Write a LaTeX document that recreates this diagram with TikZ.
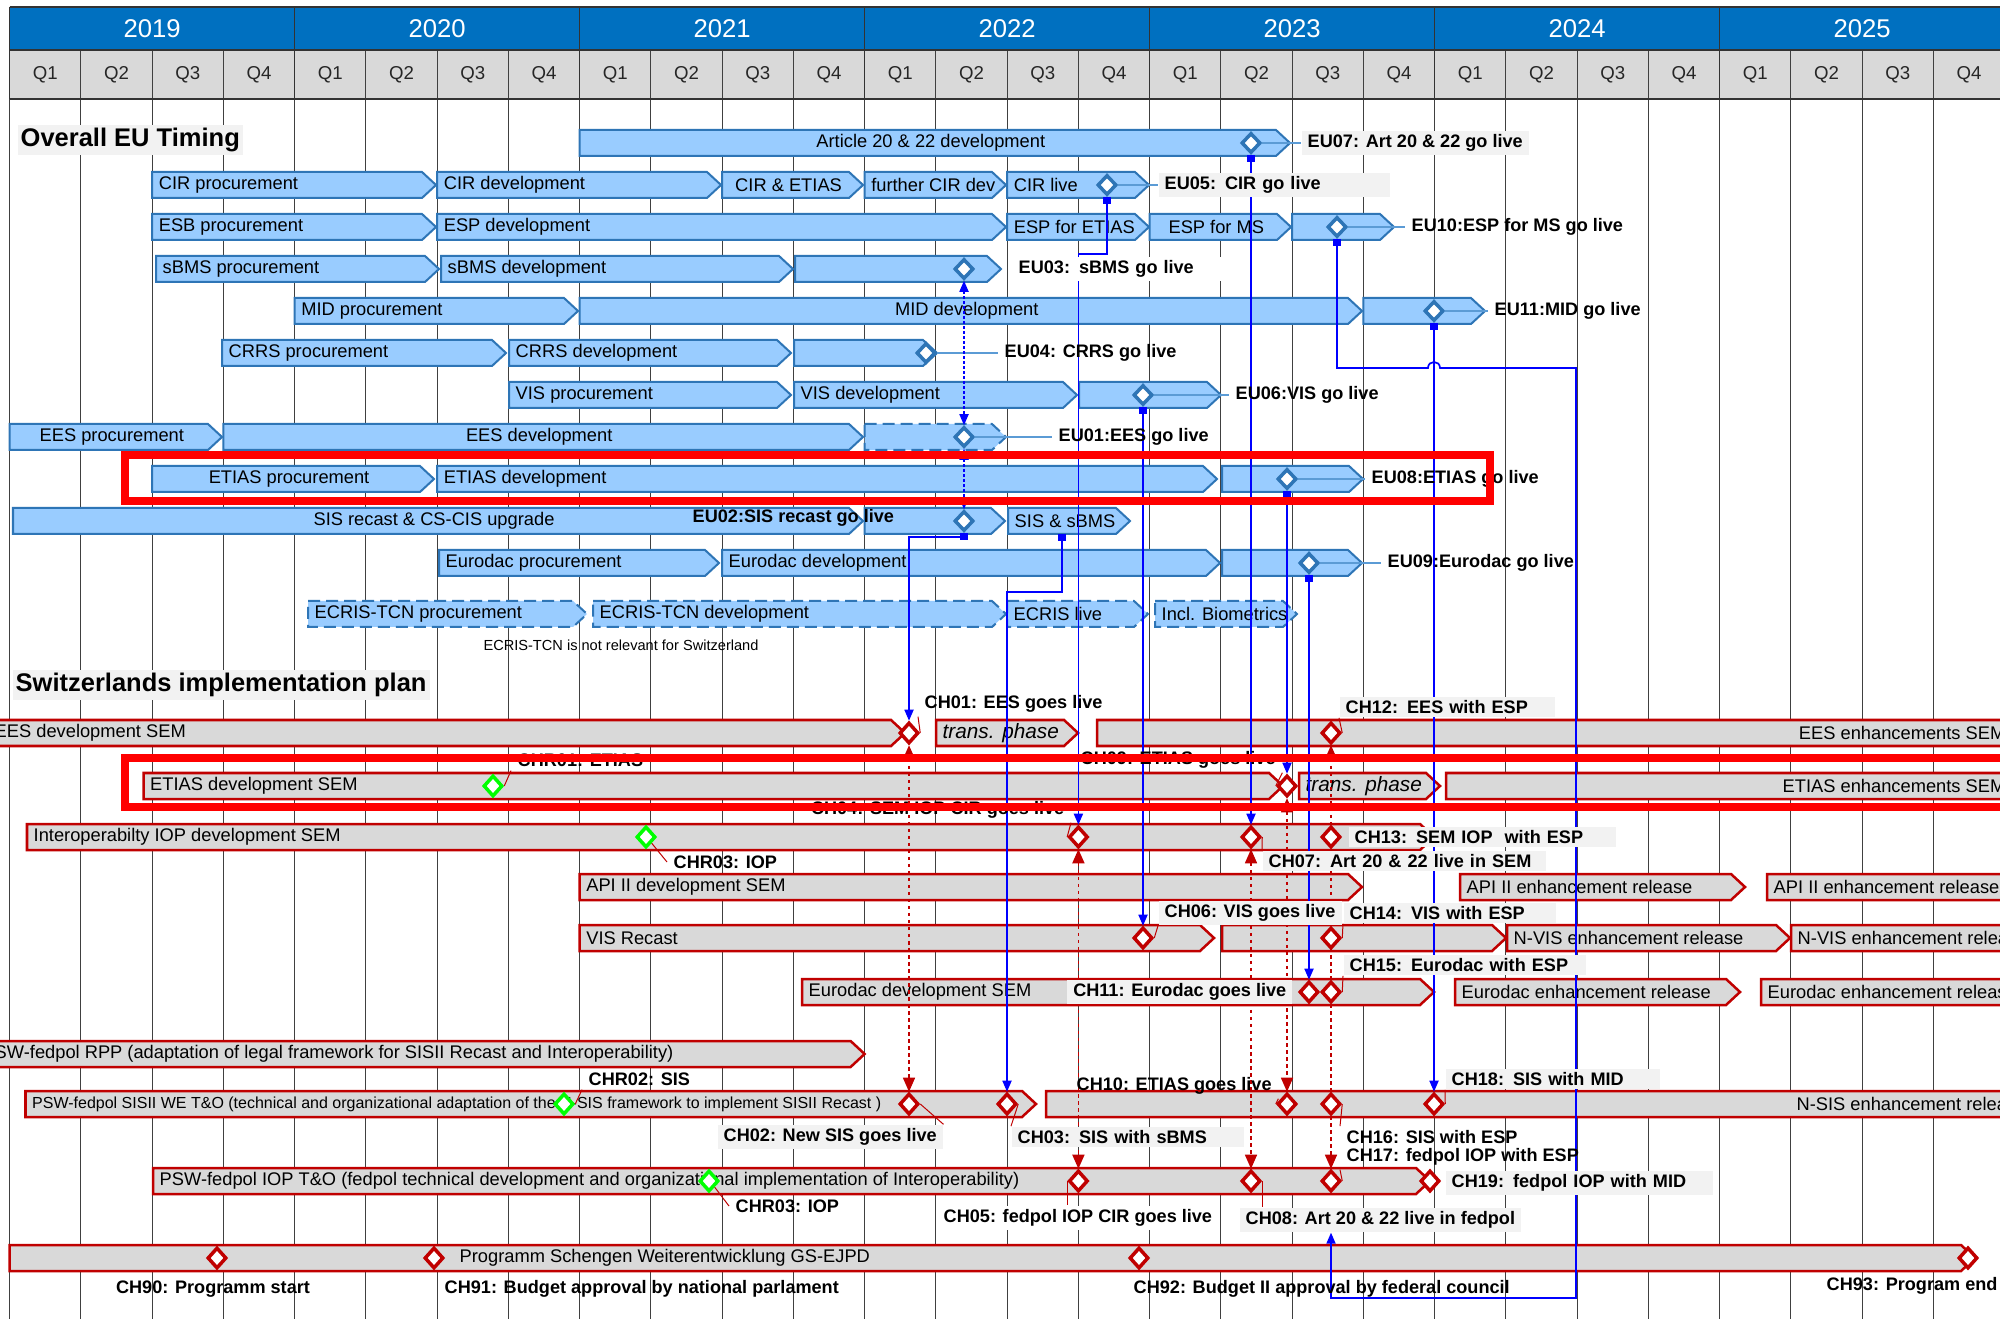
\documentclass[tikz,border=0pt]{standalone}
\usepackage{fontspec}
\setmainfont{Liberation Sans}
\usetikzlibrary{shapes.geometric,arrows.meta,calc,positioning}
\pgfdeclarelayer{back}
\pgfdeclarelayer{links}
\pgfdeclarelayer{front}
\pgfsetlayers{back,links,main,front}

\definecolor{hdrblue}{HTML}{0070C0}
\definecolor{qgray}{HTML}{D9D9D9}
\definecolor{eufill}{HTML}{99CCFF}
\definecolor{euline}{HTML}{2E75B6}
\definecolor{euthin}{HTML}{5B9BD5}
\definecolor{chfill}{HTML}{D9D9D9}
\definecolor{chred}{HTML}{C00000}
\definecolor{hired}{HTML}{FF0000}
\definecolor{grn}{HTML}{00FF00}
\definecolor{labgray}{HTML}{F2F2F2}
\definecolor{linkblue}{HTML}{0000FF}

\newcommand{\barfont}{\fontsize{5.2}{6}\selectfont}
\newcommand{\phasefont}{\fontsize{5.9}{7}\selectfont\itshape}
\newcommand{\smallbarfont}{\fontsize{4.55}{5.2}\selectfont}
\newcommand{\msfont}{\fontsize{5.15}{6}\selectfont\bfseries}
\newcommand{\headfont}{\fontsize{7.25}{8.5}\selectfont\bfseries}
\newcommand{\yearfont}{\fontsize{7.3}{8.5}\selectfont}
\newcommand{\qfont}{\fontsize{5.3}{6.5}\selectfont}
\newcommand{\notefont}{\fontsize{4.15}{5}\selectfont}

\tikzset{
	declare function={qx(\k)=9.6+71.25*\k;},
	gridline/.style={draw=black!75, line width=0.12mm},
	hdrline/.style={draw=black!80, line width=0.15mm},
	yearlab/.style={text=white, font=\yearfont},
	qlab/.style={text=black!85, font=\qfont},
	eubox/.style={fill=eufill, draw=euline, line width=0.2mm},
	eudash/.style={eubox, dash pattern=on 1.2mm off 0.6mm},
	chbox/.style={fill=chfill, draw=chred, line width=0.25mm},
	bartext/.style={font=\barfont, inner xsep=0pt, inner ysep=0.3mm, text=black},
	txl/.style={bartext, anchor=west, at=(L)},
	txli/.style={txl, font=\phasefont},
	txls/.style={txl, font=\smallbarfont},
	txc/.style={bartext, at=(C)},
	txr/.style={bartext, anchor=east, at=(R)},
	eums/.style={diamond, draw=euline, fill=white, line width=0.35mm, minimum width=1.9mm, minimum height=2mm, inner sep=0pt},
	chms/.style={eums, draw=chred, minimum height=2.1mm},
	grms/.style={chms, draw=grn},
	mslab/.style={font=\msfont, inner xsep=0.6mm, inner ysep=0.35mm, anchor=west, text=black},
	graybg/.style={fill=labgray},
	heading/.style={font=\headfont, inner sep=0.3mm, fill=labgray, anchor=west},
	note/.style={font=\notefont, text=black},
	euleader/.style={draw=euthin, line width=0.15mm},
	leader/.style={draw=chred, line width=0.1mm},
	blink/.style={draw=linkblue, line width=0.17mm, {Square[length=0.7mm,width=0.8mm]}-{Triangle[length=1.1mm,width=0.9mm]}},
	bdot/.style={draw=linkblue, line width=0.17mm, dash pattern=on 0.25mm off 0.25mm, {Triangle[length=1.1mm,width=0.9mm]}-{Triangle[length=1.1mm,width=0.9mm]}},
	rdot/.style={draw=chred, line width=0.15mm, dash pattern=on 0.35mm off 0.35mm, {Triangle[length=1.4mm,width=1.2mm]}-{Triangle[length=1.4mm,width=1.2mm]}},
	hilite/.style={draw=hired, line width=0.8mm}
}

% bar with arrow end: box style, text style, name, x from, x to, row, text
\newcommand{\chev}[7]{%
	\draw[#1] (#4,#6-13) -- ({#5-14},#6-13) -- (#5,#6) -- ({#5-14},#6+13) -- (#4,#6+13) -- cycle;
	\coordinate (L) at ({#4+6},#6);
	\coordinate (C) at ({(#4+#5)/2-4},#6);
	\coordinate (R) at ({#5-28},#6);
	\node[#2] (#3) {#7};
}

\begin{document}
\begin{tikzpicture}[x=0.01cm, y=-0.01cm]
\useasboundingbox (0,0) rectangle (2000,1319);

\begin{pgfonlayer}{back}
	\fill[white] (0,0) rectangle (2000,1319);
	\fill[hdrblue] (9.6,7) rectangle (2010,50);
	\fill[qgray] (9.6,50) rectangle (2010,99);
	\foreach \k in {0,...,28}
		\draw[gridline] ({qx(\k)},50) -- ({qx(\k)},1319);
	\foreach \k in {0,4,...,28}
		\draw[hdrline] ({qx(\k)},7) -- ({qx(\k)},99);
	\draw[hdrline] (9.6,7) -- (2010,7) (9.6,50) -- (2010,50) (9.6,99) -- (2010,99);

	% EU bars
	\chev{eubox}{txc}{art1}{579.6}{1290}{143}{Article 20 \& 22 development}
	\chev{eubox}{txl}{cir1}{152.1}{436}{185}{CIR procurement}
	\chev{eubox}{txl}{cir2}{437.1}{721}{185}{CIR development}
	\chev{eubox}{txc}{cir3}{722.1}{863}{185}{CIR \& ETIAS}
	\chev{eubox}{txl}{cir4}{864.6}{1006}{185}{further CIR dev}
	\chev{eubox}{txl}{cir5}{1007.1}{1149}{185}{CIR live}
	\chev{eubox}{txl}{esp1}{152.1}{436}{227}{ESB procurement}
	\chev{eubox}{txl}{esp2}{437.1}{1006}{227}{ESP development}
	\chev{eubox}{txl}{esp3}{1007.1}{1149}{227}{ESP for ETIAS}
	\chev{eubox}{txc}{esp4}{1149.6}{1291}{227}{ESP for MS}
	\chev{eubox}{txl}{esp5}{1292.1}{1394}{227}{}
	\chev{eubox}{txl}{sbms1}{156}{439}{269}{sBMS procurement}
	\chev{eubox}{txl}{sbms2}{441}{793}{269}{sBMS development}
	\chev{eubox}{txl}{sbms3}{795}{1001}{269}{}
	\chev{eubox}{txl}{mid1}{294.6}{578}{311}{MID procurement}
	\chev{eubox}{txc}{mid2}{579.6}{1362}{311}{MID development}
	\chev{eubox}{txl}{mid3}{1363.4}{1485}{311}{}
	\chev{eubox}{txl}{crrs1}{222}{506}{353}{CRRS procurement}
	\chev{eubox}{txl}{crrs2}{509}{791}{353}{CRRS development}
	\chev{eubox}{txl}{crrs3}{794}{937}{353}{}
	\chev{eubox}{txl}{vis1}{509}{791}{395}{VIS procurement}
	\chev{eubox}{txl}{vis2}{794}{1077}{395}{VIS development}
	\chev{eubox}{txl}{vis3}{1079}{1221}{395}{}
	\chev{eubox}{txc}{ees1}{9.6}{222}{437}{EES procurement}
	\chev{eubox}{txc}{ees2}{223.4}{863}{437}{EES development}
	\chev{eudash}{txl}{ees3}{864.6}{1006}{437}{}
	\chev{eubox}{txc}{etias1}{152.1}{434}{479}{ETIAS procurement}
	\chev{eubox}{txl}{etias2}{437.1}{1217}{479}{ETIAS development}
	\chev{eubox}{txl}{etias3}{1222}{1363}{479}{}
	\chev{eubox}{txc}{sis1}{13}{863}{521}{SIS recast \& CS-CIS upgrade}
	\chev{eubox}{txl}{sis2}{864.6}{1005}{521}{}
	\chev{eubox}{txl}{sis3}{1008}{1130}{521}{SIS \& sBMS}
	\chev{eubox}{txl}{edac1}{439}{719}{563}{Eurodac procurement}
	\chev{eubox}{txl}{edac2}{722}{1220}{563}{Eurodac development}
	\chev{eubox}{txl}{edac3}{1222}{1362}{563}{}
	\chev{eudash}{txl}{ecris1}{308}{587}{614}{ECRIS-TCN procurement}
	\chev{eudash}{txl}{ecris2}{593}{1006}{614}{ECRIS-TCN development}
	\chev{eudash}{txl}{ecris3}{1007}{1148}{614}{ECRIS live}
	\chev{eudash}{txl}{ecris4}{1155}{1297}{614}{Incl. Biometrics}

	% Swiss bars
	\chev{chbox}{txl}{sem1}{-12}{905}{733}{EES development SEM}
	\chev{chbox}{txli}{sem2}{936}{1078}{733}{trans. phase}
	\chev{chbox}{txr}{sem3}{1097}{2034}{733}{EES enhancements SEM}
	\chev{chbox}{txl}{ets1}{143.5}{1283}{786}{ETIAS development SEM}
	\chev{chbox}{txli}{ets2}{1299}{1440}{786}{trans. phase}
	\chev{chbox}{txr}{ets3}{1446}{2034}{786}{ETIAS enhancements SEM}
	\chev{chbox}{txl}{iop1}{27}{1434}{837}{Interoperabilty IOP development SEM}
	\chev{chbox}{txl}{api1}{579.6}{1362}{887}{API II development SEM}
	\chev{chbox}{txl}{api2}{1460}{1745}{887}{API II enhancement release}
	\chev{chbox}{txl}{api3}{1767}{2100}{887}{API II enhancement release}
	\chev{chbox}{txl}{visr1}{579.6}{1214}{938}{VIS Recast}
	\chev{chbox}{txl}{visr2}{1222}{1506}{938}{}
	\chev{chbox}{txl}{visr3}{1507}{1790}{938}{N-VIS enhancement release}
	\chev{chbox}{txl}{visr4}{1791}{2100}{938}{N-VIS enhancement release}
	\chev{chbox}{txl}{eds1}{802}{1434}{992}{Eurodac development SEM}
	\chev{chbox}{txl}{eds2}{1455}{1740}{992}{Eurodac enhancement release}
	\chev{chbox}{txl}{eds3}{1761}{2100}{992}{Eurodac enhancement release}
	\chev{chbox}{txl}{rpp1}{-12}{864.6}{1054}{SW-fedpol RPP (adaptation of legal framework for SISII Recast and Interoperability)}
	\chev{chbox}{txls}{sisii1}{25.5}{1036}{1104}{PSW-fedpol SISII WE T\&O (technical and organizational adaptation of the N-SIS framework to implement SISII Recast )}
	\chev{chbox}{txr}{sisii2}{1046}{2055}{1104}{N-SIS enhancement release}
	\chev{chbox}{txl}{piop1}{153}{1430}{1181}{PSW-fedpol IOP T\&O (fedpol technical development and organizational implementation of Interoperability)}
	\chev{chbox}{txl}{prog1}{9.6}{1975}{1258}{}
	\node[bartext, anchor=west] (prog-text) at (459,1258) {Programm Schengen Weiterentwicklung GS-EJPD};
\end{pgfonlayer}

\foreach \yr [count=\i from 0] in {2019,...,2025}
	\node[yearlab] (yr\yr) at ({qx(4*\i+2)},28.5) {\yr};
\foreach \k in {0,...,27}{
	\pgfmathtruncatemacro{\qn}{mod(\k,4)+1}
	\node[qlab] (qr\k) at ({qx(\k+0.5)},74.5) {Q\qn};
}

\node[heading] (eu-head) at (17,140) {Overall EU Timing};
\node[heading] (ch-head) at (12,685) {Switzerlands implementation plan};
\node[note] (ecris-note) at (621,645) {ECRIS-TCN is not relevant for Switzerland};
\coordinate (sisbms) at (1062,534);

% EU milestone labels
\node[mslab, graybg] (eu07-lab) at (1301,143) {EU07: Art 20 \& 22 go live};
\node[mslab, graybg, text width=2.19cm, align=left] (eu05-lab) at (1158,185) {EU05: CIR go live};
\node[mslab] (eu10-lab) at (1405,227) {EU10:ESP for MS go live};
\node[mslab, fill=white, text width=1.98cm, align=left] (eu03-lab) at (1012,269) {EU03: sBMS go live};
\node[mslab] (eu11-lab) at (1488,311) {EU11:MID go live};
\node[mslab] (eu04-lab) at (998,353) {EU04: CRRS go live};
\node[mslab] (eu06-lab) at (1229,395) {EU06:VIS go live};
\node[mslab] (eu01-lab) at (1052,437) {EU01:EES go live};
\node[mslab] (eu08-lab) at (1365,479) {EU08:ETIAS go live};
\node[mslab] (eu02-lab) at (686,518) {EU02:SIS recast go live};
\node[mslab] (eu09-lab) at (1381,563) {EU09:Eurodac go live};

% Swiss milestone labels
\node[mslab] (ch01-lab) at (918,704) {CH01: EES goes live};
\node[mslab, graybg, text width=2.03cm, align=left] (ch12-lab) at (1339,707) {CH12: EES with ESP};
\node[mslab] (chr01-lab) at (511,760) {CHR01: ETIAS};
\node[mslab] (ch09-lab) at (1074,760) {CH09: ETIAS goes live};
\node[mslab] (chr03a-lab) at (667,862) {CHR03: IOP};
\node[mslab, anchor=east] (ch04-lab) at (1071,810) {CH04: SEM IOP CIR goes live};
\node[mslab, graybg, text width=2.71cm, align=left] (ch07-lab) at (1262,861) {CH07: Art 20 \& 22 live in SEM};
\node[mslab, graybg, text width=2.55cm, align=left] (ch13-lab) at (1348,837) {CH13: SEM IOP\ \ with ESP};
\node[mslab, graybg] (ch06-lab) at (1158,913) {CH06: VIS goes live};
\node[mslab, graybg, text width=2cm, align=left] (ch14-lab) at (1343,913) {CH14: VIS with ESP};
\node[mslab, graybg, anchor=east] (ch11-lab) at (1293,992) {CH11: Eurodac goes live};
\node[mslab, graybg, text width=2.3cm, align=left] (ch15-lab) at (1343,965) {CH15: Eurodac with ESP};
\node[mslab] (chr02-lab) at (582,1079) {CHR02: SIS};
\node[mslab, graybg] (ch02-lab) at (717,1137) {CH02: New SIS goes live};
\node[mslab, graybg, text width=2.2cm, align=left] (ch03-lab) at (1011,1137) {CH03: SIS with sBMS};
\node[mslab] (ch10-lab) at (1070,1086) {CH10: ETIAS goes live};
\node[mslab] (ch16-lab) at (1340,1137) {CH16: SIS with ESP};
\node[mslab, graybg, text width=2.02cm, align=left] (ch18-lab) at (1445,1079) {CH18: SIS with MID};
\node[mslab] (chr03b-lab) at (729,1206) {CHR03: IOP};
\node[mslab, fill=white] (ch05-lab) at (937,1218) {CH05: fedpol IOP CIR goes live};
\node[mslab, graybg] (ch08-lab) at (1239,1220) {CH08: Art 20 \& 22 live in fedpol};
\node[mslab] (ch17-lab) at (1340,1157) {CH17: fedpol IOP with ESP};
\node[mslab, graybg, text width=2.55cm, align=left] (ch19-lab) at (1445,1183) {CH19: fedpol IOP with MID};
\node[mslab, anchor=center] (ch90-lab) at (213,1289) {CH90: Programm start};
\node[mslab] (ch91-lab) at (438,1289) {CH91: Budget approval by national parlament};
\node[mslab] (ch92-lab) at (1127,1289) {CH92: Budget II approval by federal council};
\node[mslab] (ch93-lab) at (1820,1286) {CH93: Program end};

\begin{pgfonlayer}{front}
	\node[eums] (eu07) at (1251,143) {};
	\node[eums] (eu05) at (1107,185) {};
	\node[eums] (eu10) at (1337,227) {};
	\node[eums] (eu03) at (964,269) {};
	\node[eums] (eu11) at (1434,311) {};
	\node[eums] (eu04) at (926,353) {};
	\node[eums] (eu06) at (1143,395) {};
	\node[eums] (eu01) at (964,437) {};
	\node[eums] (eu08) at (1287,479) {};
	\node[eums] (eu02) at (964,521) {};
	\node[eums] (eu09) at (1309,563) {};

	\node[chms] (ch01) at (909,733) {};
	\node[chms] (ch12) at (1331,733) {};
	\node[grms] (chr01) at (493,786) {};
	\node[chms] (ch09) at (1287,786) {};
	\node[grms] (chr03a) at (646,837) {};
	\node[chms] (ch04) at (1078.4,837) {};
	\node[chms] (ch07) at (1251,837) {};
	\node[chms] (ch13) at (1331,837) {};
	\node[chms] (ch06) at (1143,938) {};
	\node[chms] (ch14) at (1331,938) {};
	\node[chms] (ch11) at (1309,992) {};
	\node[chms] (ch15) at (1331,992) {};
	\node[grms] (chr02) at (564,1104) {};
	\node[chms] (ch02) at (909,1104) {};
	\node[chms] (ch03) at (1007,1104) {};
	\node[chms] (ch10) at (1287,1104) {};
	\node[chms] (ch16) at (1331,1104) {};
	\node[chms] (ch18) at (1434,1104) {};
	\node[grms] (chr03b) at (709,1181) {};
	\node[chms] (ch05) at (1078.4,1181) {};
	\node[chms] (ch08) at (1251,1181) {};
	\node[chms] (ch17) at (1331,1181) {};
	\node[chms] (ch19) at (1430,1181) {};
	\node[chms] (ch90) at (217,1258) {};
	\node[chms] (ch91) at (434,1258) {};
	\node[chms] (ch92) at (1139,1258) {};
	\node[chms] (ch93) at (1968,1258) {};
\end{pgfonlayer}

\begin{pgfonlayer}{links}
	\foreach \m in {eu07,eu05,eu10,eu11,eu04,eu06,eu01,eu08,eu09}
		\draw[euleader] (\m.east) -- (\m-lab.west);

	\draw[bdot] (eu03.south) -- (eu01.north);
	\draw[bdot] (eu01.south) -- (eu02.north);
	\draw[blink] (eu02.south) -- ++(0,4) -| (ch01.north);
	\draw[blink] (eu05.south) -- ++(0,57) -| (ch04.north);
	\draw[blink] (sisbms) -- ++(0,58) -| (ch03.north);
	\draw[blink] (eu07.south) -- (ch07.north);
	\draw[blink] (eu06.south) -- (ch06.north);
	\draw[blink] (eu08.south) -- (ch09.north);
	\draw[blink] (eu09.south) -- (ch11.north);
	\draw[blink] (eu11.south) -- (ch18.north);
	\draw[blink] (eu10.south) |- (1428,368) .. controls (1428,360) and (1440,360) .. (1440,368)
		-- (1576,368) |- (1331,1298) -- (ch08-lab.south -| ch17);

	\draw[rdot] (ch01.south) -- (ch02.north);
	\draw[rdot] (ch04.south) -- (ch05.north);
	\draw[rdot] (ch07.south) -- (ch08.north);
	\draw[rdot] (ch09.south) -- (ch10.north);
	\draw[rdot] (ch12.south) -- (ch17.north);

	\draw[leader] (ch01.east) -- (ch01-lab.south west);
	\draw[leader] (ch12.east) -- (ch12-lab.south west);
	\draw[leader] (chr01.east) -- (chr01-lab.south west);
	\draw[leader] (ch09.west) -- (ch09-lab.south east);
	\draw[leader] (chr03a.south east) -- (chr03a-lab.west);
	\draw[leader] (ch04.west) -- (ch04-lab.south east);
	\draw[leader] (ch07.east) -- (ch07-lab.north west);
	\draw[leader] (ch06.east) -- (ch06-lab.south west);
	\draw[leader] (ch14.east) -- (ch14-lab.south west);
	\draw[leader] (ch15.east) -- (ch15-lab.south west);
	\draw[leader] (chr02.east) -- (chr02-lab.south west);
	\draw[leader] (ch02.east) -- (ch02-lab.north east);
	\draw[leader] (ch03.east) -- (ch03-lab.north west);
	\draw[leader] (ch10.west) -- (ch10-lab.south east);
	\draw[leader] (ch16.east) -- (ch16-lab.north west);
	\draw[leader] (ch18.east) -- (ch18-lab.south west);
	\draw[leader] (chr03b.south east) -- (chr03b-lab.west);
	\draw[leader] (ch05.west) -- (ch05.west |- ch05-lab.north);
	\draw[leader] (ch08.east) -- (ch08.east |- ch08-lab.north);
	\draw[leader] (ch17.east) -- (ch17-lab.south west);
\end{pgfonlayer}

\begin{pgfonlayer}{front}
	\draw[hilite] (125,455) rectangle (1490,501);
	\draw[hilite] (125,758) rectangle (2100,807);
\end{pgfonlayer}

\end{tikzpicture}
\end{document}
